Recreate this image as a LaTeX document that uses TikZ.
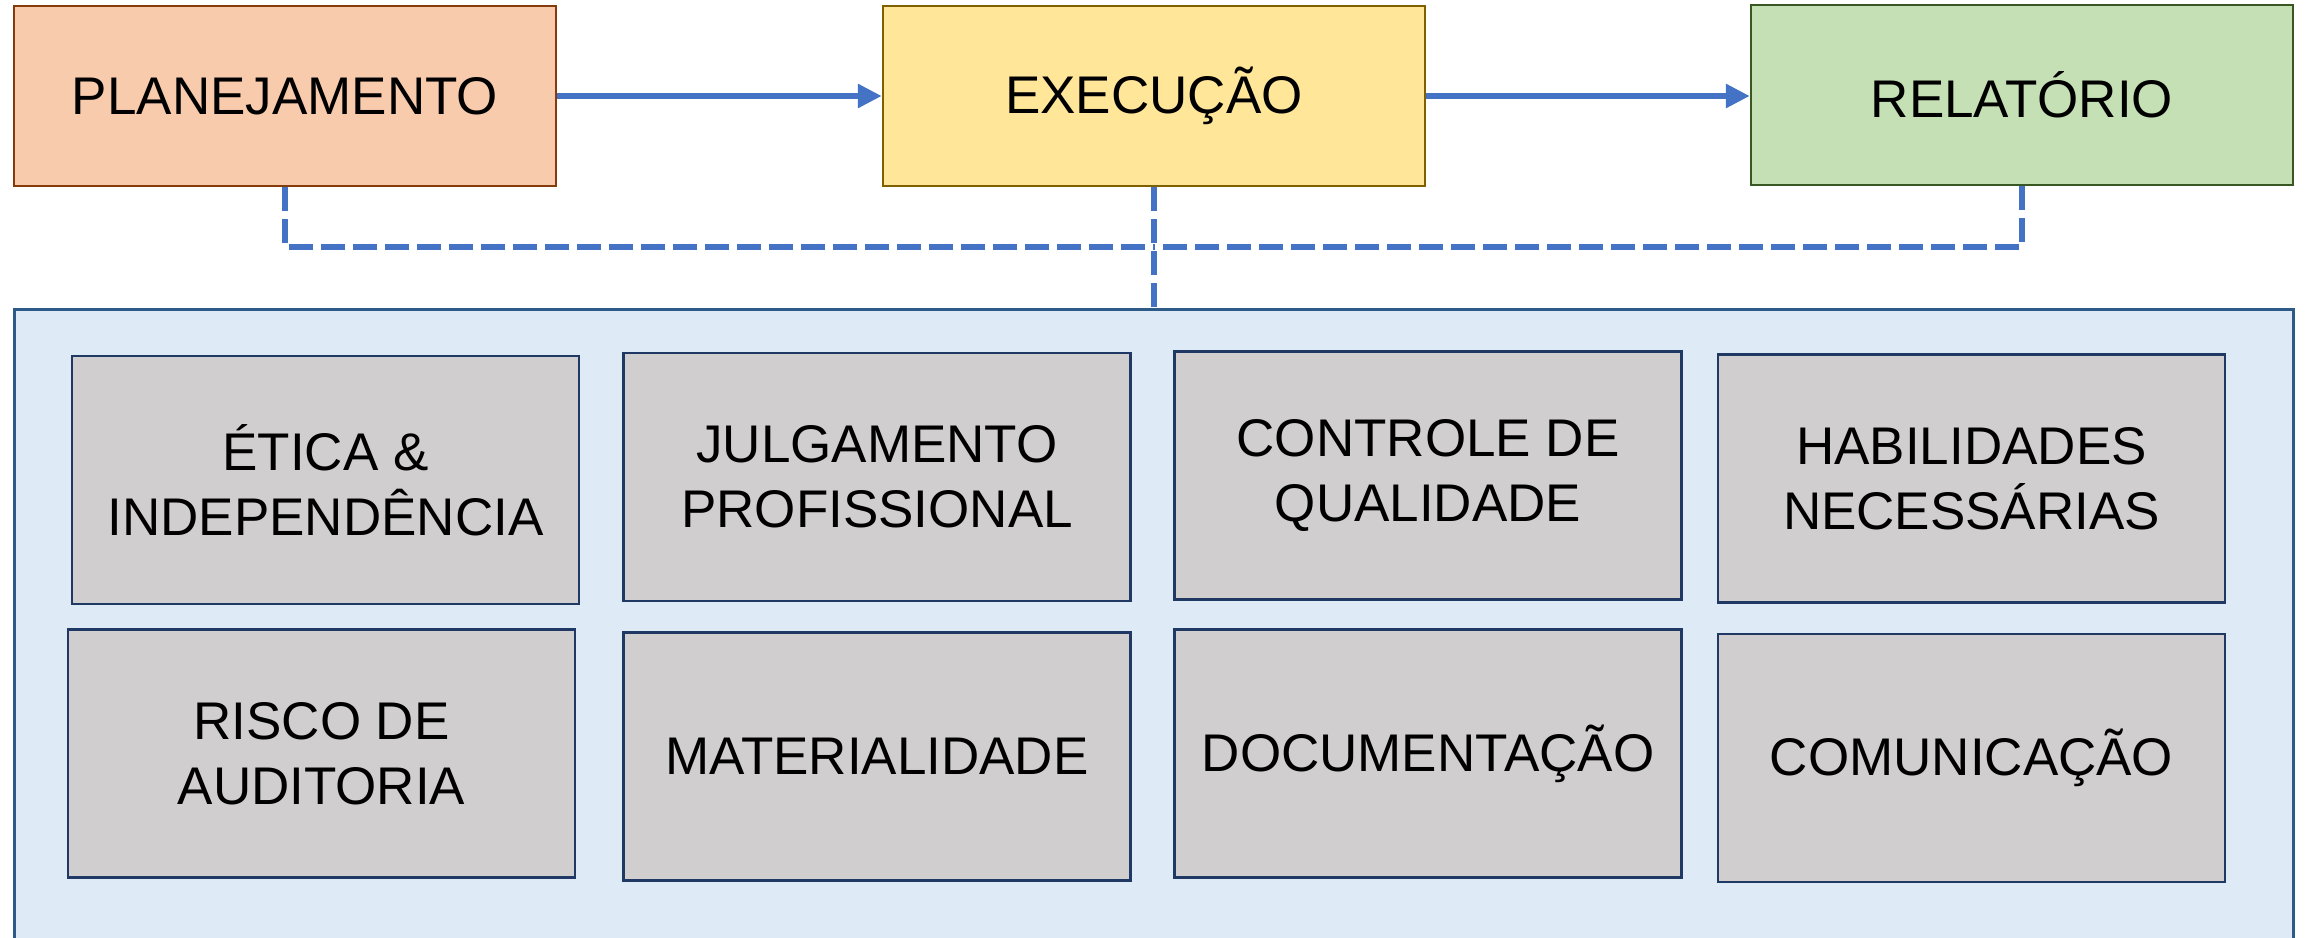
\documentclass[tikz,border=0pt]{standalone}
\usepackage{fontspec}
\setmainfont{Liberation Sans}
\usetikzlibrary{arrows.meta}
\definecolor{planfill}{HTML}{F8CBAD}
\definecolor{plandraw}{HTML}{843C0C}
\definecolor{execfill}{HTML}{FFE699}
\definecolor{execdraw}{HTML}{7F6000}
\definecolor{relfill}{HTML}{C5E0B4}
\definecolor{reldraw}{HTML}{385723}
\definecolor{flow}{HTML}{4472C4}
\definecolor{framefill}{HTML}{DEEBF7}
\definecolor{framedraw}{HTML}{2E5A88}
\definecolor{itemfill}{HTML}{D0CECE}
\definecolor{itemdraw}{HTML}{203864}
\tikzset{
  phase/.style={draw, line width=2.5pt, inner sep=0pt, minimum width=542pt, minimum height=180pt,
    font=\fontsize{53}{65}\selectfont, align=center},
  item/.style={draw=itemdraw, fill=itemfill, line width=2.5pt, inner sep=0pt,
    minimum width=507pt, minimum height=248pt, font=\fontsize{53}{65}\selectfont, align=center},
  flowarrow/.style={draw=flow, line width=6pt, -{Triangle[length=24pt,width=23pt]}},
  link/.style={draw=flow, line width=6pt, dash pattern=on 24pt off 8pt}
}
\begin{document}
\begin{tikzpicture}[x=1pt,y=-1pt]
\useasboundingbox (0,0) rectangle (2306,937);
\clip (0,0) rectangle (2306,937);
\fill[white] (0,0) rectangle (2306,937);
% frame
\node[draw=framedraw, fill=framefill, line width=2.5pt, inner sep=0pt, minimum width=2279pt, minimum height=660pt, anchor=north west] (frame) at (13,308) {};
% phases
\node[phase, draw=plandraw, fill=planfill] (plan) at (285,96) {PLANEJAMENTO};
\node[phase, draw=execdraw, fill=execfill] (exec) at (1154,96) {EXECUÇÃO};
\node[phase, draw=reldraw, fill=relfill] (rel) at (2022,95) {RELATÓRIO};
% arrows
\draw[flowarrow] (plan.east) -- (exec.west);
\draw[flowarrow] (exec.east) -- (exec.east -| rel.west);
% dashed links
\coordinate (jn) at (1154,247);
\draw[link] (plan.south) |- (jn);
\draw[link] (rel.south) |- (jn);
\draw[link] (exec.south) -- (exec.south |- frame.north);
% items
\node[item] (etica) at (325.5,480) {ÉTICA \&\\INDEPENDÊNCIA};
\node[item] (risco) at (321.5,753.5) {RISCO DE\\AUDITORIA};
\node[item] (julg) at (877,477) {JULGAMENTO\\PROFISSIONAL};
\node[item] (mat) at (877,756.5) {MATERIALIDADE};
\node[item] (ctrl) at (1428,475.5) {CONTROLE DE\\QUALIDADE};
\node[item] (doc) at (1428,753.5) {DOCUMENTAÇÃO};
\node[item] (hab) at (1971.5,478.5) {HABILIDADES\\NECESSÁRIAS};
\node[item] (com) at (1971.5,758) {COMUNICAÇÃO};
\end{tikzpicture}
\end{document}
